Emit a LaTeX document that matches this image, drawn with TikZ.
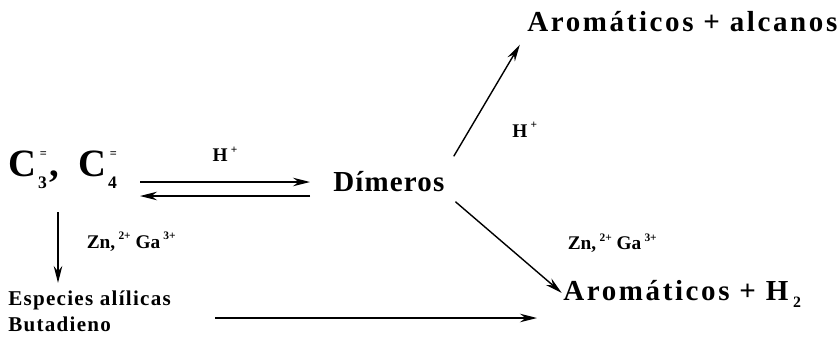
\documentclass[tikz,border=0pt]{standalone}
\usepackage{fontspec}
\setmainfont{Liberation Serif}
\usetikzlibrary{arrows.meta}
\newfontfamily\widefont[LetterSpace=9]{Liberation Serif}
\newfontfamily\midfont[LetterSpace=4]{Liberation Serif}
\newfontfamily\spfont[LetterSpace=6]{Liberation Serif}
\tikzset{
  rx/.style={-{Stealth[length=3.4mm,width=1.7mm]},line width=0.8pt},
  big/.style={inner sep=0pt,font=\widefont\bfseries\fontsize{16.5}{20}\selectfont},
  mid/.style={inner sep=0pt,font=\midfont\bfseries\fontsize{16.5}{20}\selectfont},
  olef/.style={inner sep=0pt,font=\bfseries\fontsize{22}{24}\selectfont},
  prod/.style={inner sep=0pt,font=\spfont\bfseries\fontsize{12}{14}\selectfont,align=left},
  cat/.style={inner sep=0pt,font=\bfseries\fontsize{11}{13}\selectfont},
}
\newcommand{\sps}[2]{\kern1pt\rlap{\kern1pt\raisebox{11pt}{\fontsize{7}{7}\selectfont#1}}\raisebox{-7pt}{\fontsize{10}{10}\selectfont#2}\kern1.5pt}
\newcommand{\ion}[1]{\,\raisebox{5pt}{\fontsize{6.5}{6.5}\selectfont#1}}

\begin{document}
\begin{tikzpicture}[x=0.02cm,y=-0.02cm]
  \useasboundingbox (0,0) rectangle (838,338);
  % species
  \node[olef,anchor=west] (cc) at (8,170) {C\sps{=}{3},\enspace C\sps{=}{4}};
  \node[mid,anchor=west] (dim) at (333,182) {Dímeros};
  \node[big,anchor=west] (aal) at (527,22) {Aromáticos + alcanos};
  \node[big,anchor=west] (ah) at (563,294) {Aromáticos + H\,\raisebox{-4pt}{\fontsize{9}{9}\selectfont 2}};
  \node[prod,anchor=north west] (esp) at (8,290) {Especies alílicas\\[1pt]Butadieno};
  % reactions
  \coordinate (ta) at (140,182);
  \coordinate (tb) at (310,182);
  \coordinate (ba) at (140,196);
  \coordinate (bb) at (310,196);
  \coordinate (va) at (58,212);
  \coordinate (ha) at (215,318);
  \coordinate (hb) at (537,318);
  \draw[rx] (ta) -- (tb) node[cat,midway,above=11pt] {H\ion{+}};
  \draw[rx] (bb) -- (ba);
  \draw[rx,shorten <=10pt,shorten >=8pt] (dim.north east) -- (aal.south west)
    node[cat,pos=0.3,right=24pt] {H\ion{+}};
  \draw[rx,shorten <=8pt,shorten >=1pt] (dim.south east) -- (ah.west)
    node[cat,pos=0.5,right=36pt] {Zn,\ion{2+} Ga\ion{3+}};
  \draw[rx,shorten >=4pt] (va) -- (va |- esp.north)
    node[cat,pos=0.38,right=16pt] {Zn,\ion{2+} Ga\ion{3+}};
  \draw[rx] (ha) -- (hb);
\end{tikzpicture}
\end{document}
